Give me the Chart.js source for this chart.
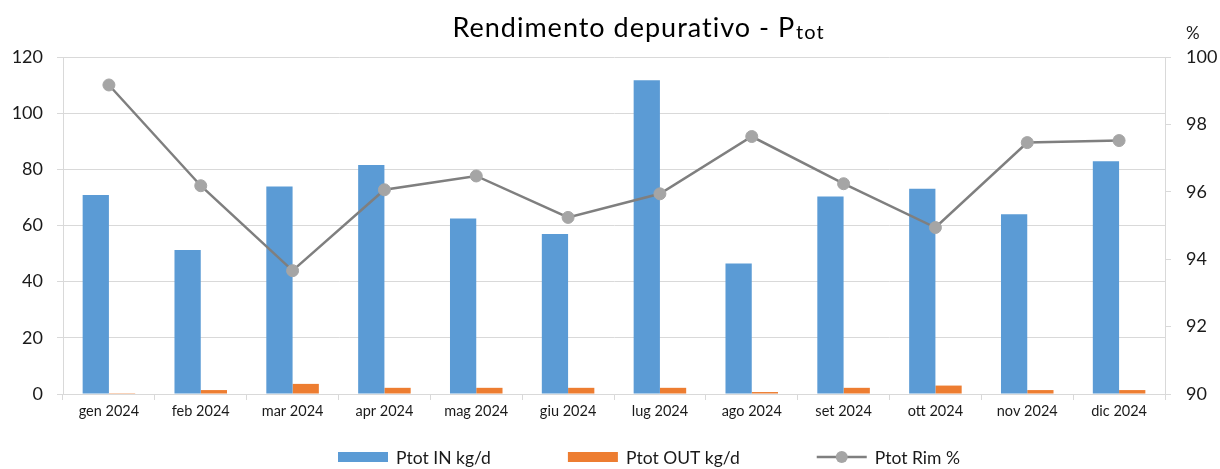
<!DOCTYPE html>
<html>
<head>
<meta charset="utf-8">
<script src="https://cdn.jsdelivr.net/npm/chart.js@4/dist/chart.umd.min.js"></script>
<style>
  html, body { margin: 0; padding: 0; background: #ffffff; }
  #wrap { width: 1220px; height: 469px; position: relative; }
  canvas { display: block; }
</style>
</head>
<body>
<div id="wrap"><canvas id="c" width="1220" height="469"></canvas></div>
<script>
// ---- Data ----
const categories = ['gen 2024', 'feb 2024', 'mar 2024', 'apr 2024', 'mag 2024', 'giu 2024',
                    'lug 2024', 'ago 2024', 'set 2024', 'ott 2024', 'nov 2024', 'dic 2024'];
const ptotIn  = [70.9, 51.3, 73.9, 81.5, 62.5, 57.0, 111.7, 46.5, 70.3, 73.1, 64.0, 82.9];
const ptotOut = [0.3, 1.4, 3.6, 2.2, 2.2, 2.2, 2.2, 0.7, 2.2, 3.0, 1.4, 1.4];
const ptotRim = [99.17, 96.18, 93.66, 96.06, 96.47, 95.24, 95.94, 97.64, 96.24, 94.94, 97.46, 97.52];
const leftTicks  = [0, 20, 40, 60, 80, 100, 120];
const rightTicks = [90, 92, 94, 96, 98, 100];
const seriesNames = ['Ptot IN kg/d', 'Ptot OUT kg/d', 'Ptot Rim %'];
const titleMain = 'Rendimento depurativo - P';
const titleSub = 'tot';
const rightUnit = '%';

// ---- Styles ----
const FONT = 'Lato, "Open Sans", sans-serif';
const TEXT = '#1a1a1a';
const GRID = '#d9d9d9';
const BLUE = '#5B9BD5';
const ORANGE = '#ED7D31';
const LINE = '#7F7F7F';
const MARK = '#A5A5A5';

const decorPlugin = {
  id: 'decor',
  afterDraw(chart) {
    const ctx = chart.ctx;
    ctx.save();
    // Title
    ctx.fillStyle = '#000000';
    ctx.textBaseline = 'alphabetic';
    ctx.textAlign = 'left';
    if ('letterSpacing' in ctx) ctx.letterSpacing = '1px';
    ctx.font = '27px ' + FONT;
    const w1 = ctx.measureText(titleMain).width;
    ctx.font = '20px ' + FONT;
    const w2 = ctx.measureText(titleSub).width;
    const tx = 638 - (w1 + w2) / 2;
    ctx.font = '27px ' + FONT;
    ctx.fillText(titleMain, tx, 37);
    ctx.font = '20px ' + FONT;
    ctx.fillText(titleSub, tx + w1 + 1, 39);
    if ('letterSpacing' in ctx) ctx.letterSpacing = '0px';

    // % unit above right axis
    const r = chart.scales.y1;
    ctx.font = '17px ' + FONT;
    ctx.fillStyle = TEXT;
    ctx.textBaseline = 'middle';
    ctx.fillText(rightUnit, r.left + 21, 34);

    // Legend
    const ly = 457;
    ctx.font = '17.5px ' + FONT;
    ctx.textBaseline = 'middle';
    let x = 338;
    const kinds = [['box', BLUE], ['box', ORANGE], ['line', LINE]];
    kinds.forEach((k, i) => {
      if (k[0] === 'box') {
        ctx.fillStyle = k[1];
        ctx.fillRect(x, ly - 5, 50, 10);
      } else {
        ctx.strokeStyle = LINE;
        ctx.lineWidth = 2.5;
        ctx.beginPath();
        ctx.moveTo(x, ly);
        ctx.lineTo(x + 50, ly);
        ctx.stroke();
        ctx.fillStyle = MARK;
        ctx.beginPath();
        ctx.arc(x + 25, ly, 6, 0, Math.PI * 2);
        ctx.fill();
      }
      x += 50 + 8;
      ctx.fillStyle = TEXT;
      ctx.fillText(seriesNames[i], x, ly + 1);
      x += ctx.measureText(seriesNames[i]).width + 77;
    });
    ctx.restore();
  }
};

new Chart(document.getElementById('c'), {
  data: {
    labels: categories,
    datasets: [
      {
        type: 'bar', label: seriesNames[0], data: ptotIn, yAxisID: 'y',
        backgroundColor: BLUE, order: 2,
        categoryPercentage: 0.572, barPercentage: 1.0
      },
      {
        type: 'bar', label: seriesNames[1], data: ptotOut, yAxisID: 'y',
        backgroundColor: ORANGE, order: 2,
        categoryPercentage: 0.572, barPercentage: 1.0
      },
      {
        type: 'line', label: seriesNames[2], data: ptotRim, yAxisID: 'y1',
        borderColor: LINE, borderWidth: 2.5, tension: 0,
        pointRadius: 6, pointBackgroundColor: MARK, pointBorderColor: MARK,
        pointBorderWidth: 1, order: 0
      }
    ]
  },
  options: {
    responsive: false,
    animation: false,
    devicePixelRatio: 1,
    layout: { padding: { top: 57, bottom: 0, left: 0, right: 0 } },
    plugins: {
      legend: { display: false },
      title: { display: false },
      tooltip: { enabled: false }
    },
    scales: {
      x: {
        offset: true,
        grid: { offset: true, drawOnChartArea: false, tickLength: 6, color: GRID },
        border: { color: GRID },
        ticks: { color: TEXT, font: { family: FONT, size: 14.5 }, padding: 3, maxRotation: 0 },
        afterFit(s) { s.height = 75; }
      },
      y: {
        position: 'left',
        min: 0, max: 120,
        afterBuildTicks(s) { s.ticks = leftTicks.map(v => ({ value: v })); },
        grid: { color: GRID, tickLength: 6 },
        border: { color: GRID },
        ticks: { color: TEXT, font: { family: FONT, size: 18 }, padding: 14 },
        afterFit(s) { s.width = 63; }
      },
      y1: {
        position: 'right',
        min: 90, max: 100,
        afterBuildTicks(s) { s.ticks = rightTicks.map(v => ({ value: v })); },
        grid: { drawOnChartArea: false, color: GRID, tickLength: 6 },
        border: { color: GRID },
        ticks: { color: TEXT, font: { family: FONT, size: 18 }, padding: 15 },
        afterFit(s) { s.width = 55; }
      }
    }
  },
  plugins: [decorPlugin]
});
</script>
</body>
</html>
